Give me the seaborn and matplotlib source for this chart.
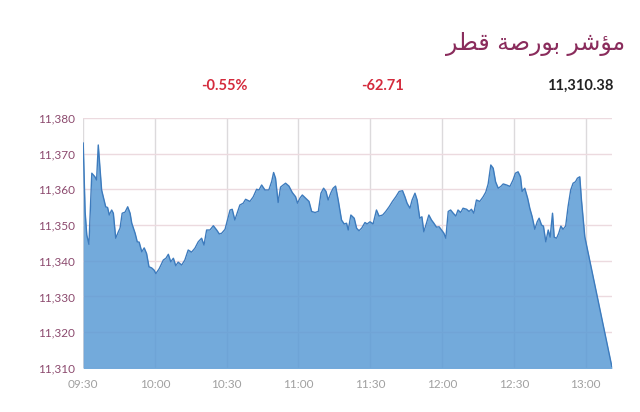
import seaborn as sns
import matplotlib
matplotlib.use("Agg")
import matplotlib.pyplot as plt
from matplotlib.ticker import FuncFormatter
import pandas as pd


TITLE = "مؤشر بورصة قطر"
CHANGE_PCT = "-0.55%"
CHANGE_PTS = "-62.71"
LAST_VALUE = "11,310.38"

# minutes after 09:30 and index level
MINUTES = [
    0, 0.8, 1.5, 2.4, 3.6, 4.9, 5.6, 6.3, 7.0, 7.7, 8.4, 9.4, 10.2, 10.9, 11.9,
    12.6, 13.6, 14.7, 15.4, 16.3, 17.5, 18.6, 19.6, 20.3, 21.7, 22.6, 23.4,
    24.5, 25.5, 26.5, 27.5, 28.6, 29.6, 30.4, 31.8, 33.5, 34.6, 35.6, 36.6,
    37.7, 38.7, 39.7, 41.2, 42.5, 43.9, 45.3, 46.7, 48.1, 49.5, 50.5, 51.6,
    53.0, 54.4, 55.8, 56.9, 57.9, 59.3, 61.4, 62.3, 63.4, 65.5, 66.9, 67.9,
    69.7, 71.1, 72.5, 73.5, 74.6, 76.0, 77.6, 78.8, 79.6, 80.4, 81.5, 82.5,
    83.6, 84.6, 86.0, 87.4, 88.8, 89.6, 90.6, 91.6, 93.0, 94.4, 95.5, 96.9,
    98.3, 99.4, 100.5, 101.5, 102.4, 103.6, 104.5, 105.5, 106.6, 108.0,
    109.1, 110.1, 110.8, 111.9, 113.3, 114.3, 115.3, 116.4, 117.8, 118.7,
    119.9, 121.2, 122.6, 123.7, 125.2, 126.5, 127.9, 129.3, 130.7, 132.1,
    133.5, 134.5, 135.4, 136.6, 137.5, 138.7, 139.6, 140.7, 141.6, 142.4,
    143.5, 144.5, 145.6, 146.6, 147.7, 148.8, 149.8, 150.8, 151.6, 152.6,
    153.6, 154.7, 155.8, 156.7, 157.8, 158.8, 160.3, 161.3, 162.3, 163.3,
    164.4, 165.8, 167.2, 168.3, 169.3, 170.4, 171.4, 172.4, 173.5, 174.6,
    175.6, 177.0, 178.4, 179.7, 180.7, 181.8, 182.8, 183.5, 184.6, 185.8,
    186.7, 187.7, 188.8, 189.8, 190.6, 191.6, 192.4, 193.4, 194.4, 195.2,
    196.2, 196.9, 197.9, 198.8, 199.7, 200.6, 201.7, 202.7, 203.8, 204.8,
    205.8, 206.6, 207.6, 208.3, 209.7, 221.0,
]
LEVELS = [
    11373.0, 11353.7, 11347.2, 11344.6, 11364.5, 11363.5, 11362.6, 11372.4,
    11365.9, 11359.8, 11357.9, 11355.1, 11354.9, 11352.8, 11354.2, 11353.3,
    11346.3, 11348.1, 11349.1, 11353.3, 11353.6, 11355.1, 11353.3, 11350.5,
    11347.7, 11345.3, 11345.2, 11342.5, 11343.6, 11342.0, 11338.3, 11338.0,
    11337.4, 11336.4, 11337.8, 11340.2, 11340.7, 11341.8, 11339.7, 11340.7,
    11338.6, 11339.6, 11338.8, 11340.2, 11343.0, 11342.4, 11343.5, 11345.3,
    11346.3, 11344.4, 11348.6, 11348.6, 11349.8, 11348.6, 11347.5, 11347.7,
    11348.8, 11354.2, 11354.4, 11351.4, 11355.6, 11356.1, 11357.2, 11356.6,
    11357.9, 11360.0, 11359.8, 11361.2, 11359.8, 11359.8, 11362.2, 11364.7,
    11363.1, 11356.3, 11360.6, 11361.2, 11361.7, 11360.9, 11359.1, 11357.9,
    11356.1, 11357.5, 11358.4, 11357.5, 11356.6, 11353.8, 11353.5, 11353.8,
    11358.9, 11360.3, 11359.4, 11357.0, 11359.1, 11360.3, 11360.9, 11357.0,
    11351.4, 11350.3, 11350.5, 11348.6, 11352.8, 11351.9, 11349.1, 11348.4,
    11349.1, 11350.7, 11350.3, 11350.9, 11350.3, 11354.2, 11352.5, 11352.8,
    11353.8, 11355.1, 11356.6, 11357.9, 11359.4, 11359.6, 11357.9, 11356.1,
    11354.7, 11357.0, 11358.9, 11357.0, 11351.9, 11352.3, 11348.1, 11350.5,
    11352.8, 11351.4, 11350.5, 11349.4, 11349.5, 11348.6, 11347.7, 11346.3,
    11353.8, 11354.2, 11353.3, 11352.5, 11354.2, 11353.5, 11354.7, 11354.4,
    11353.8, 11354.4, 11353.3, 11357.0, 11356.6, 11357.9, 11359.2, 11361.5,
    11366.8, 11365.9, 11362.1, 11360.3, 11360.8, 11361.5, 11361.2, 11360.8,
    11362.6, 11364.5, 11364.9, 11363.5, 11359.4, 11360.3, 11357.5, 11354.7,
    11352.3, 11348.8, 11350.9, 11351.9, 11350.0, 11349.7, 11345.3, 11348.6,
    11346.6, 11353.3, 11346.6, 11346.3, 11347.7, 11349.7, 11348.8, 11349.7,
    11355.1, 11359.8, 11361.7, 11362.1, 11363.1, 11363.5, 11357.0, 11346.7,
    11310.38,
]

X_TICKS = [0, 30, 60, 90, 120, 150, 180, 210]
X_LABELS = ["09:30", "10:00", "10:30", "11:00", "11:30", "12:00", "12:30", "13:00"]
Y_TICKS = [11310, 11320, 11330, 11340, 11350, 11360, 11370, 11380]

FILL = "#5b9bd5"
LINE = "#3d7bbd"
MAROON = "#8a2c5c"
RED = "#d42a3c"


# matplotlib does no arabic shaping, so pick the contextual forms by hand
# forms: isolated, final, initial, medial (right-joining letters have only two)
ARABIC_FORMS = {
    "م": "\ufee1\ufee2\ufee3\ufee4",
    "ش": "\ufeb5\ufeb6\ufeb7\ufeb8",
    "ب": "\ufe8f\ufe90\ufe91\ufe92",
    "ص": "\ufeb9\ufeba\ufebb\ufebc",
    "ق": "\ufed5\ufed6\ufed7\ufed8",
    "ط": "\ufec1\ufec2\ufec3\ufec4",
    "ؤ": "\ufe85\ufe86",
    "ر": "\ufead\ufeae",
    "و": "\ufeed\ufeee",
    "ة": "\ufe93\ufe94",
}


def shape_arabic(text):
    out = []
    for i, ch in enumerate(text):
        forms = ARABIC_FORMS.get(ch)
        if forms is None:
            out.append(ch)
            continue
        prev = text[i - 1] if i > 0 else ""
        nxt = text[i + 1] if i + 1 < len(text) else ""
        join_prev = prev in ARABIC_FORMS and len(ARABIC_FORMS[prev]) == 4
        join_next = len(forms) == 4 and nxt in ARABIC_FORMS
        idx = {(False, False): 0, (True, False): 1, (False, True): 2, (True, True): 3}[(join_prev, join_next)]
        out.append(forms[idx])
    return "".join(reversed(out))


sns.set_style("white")
plt.rcParams["font.family"] = ["Lato", "DejaVu Sans"]

df = pd.DataFrame({"minute": MINUTES, "level": LEVELS})

fig = plt.figure(figsize=(6.4, 4.12), dpi=100)
ax = fig.add_axes([0.13, 0.107, 0.826, 0.607])

ax.fill_between(df["minute"], df["level"], 11300, color=FILL, alpha=0.85, linewidth=0, zorder=2)
sns.lineplot(data=df, x="minute", y="level", ax=ax, color=LINE, linewidth=1, zorder=3)

ax.set_xlim(0, 221)
ax.set_ylim(11310, 11380)
ax.set_xticks(X_TICKS)
ax.set_xticklabels(X_LABELS)
ax.set_yticks(Y_TICKS)
ax.yaxis.set_major_formatter(FuncFormatter(lambda v, p: f"{v:,.0f}"))
ax.set_xlabel("")
ax.set_ylabel("")

ax.grid(axis="y", color="#ecdadf", linewidth=1)
ax.grid(axis="x", color="#dcdadc", linewidth=1)
ax.set_axisbelow(True)
for s in ax.spines.values():
    s.set_visible(False)

ax.tick_params(axis="y", colors=MAROON, labelsize=8.5, length=0, pad=6)
ax.tick_params(axis="x", colors="#a0a0a0", labelsize=8.5, length=0, pad=8)
for lab in ax.get_yticklabels():
    lab.set_color("#8c4a6e")

fig.text(0.977, 0.893, shape_arabic(TITLE), ha="right", va="center",
         fontsize=17, color=MAROON, family="DejaVu Sans")
fig.text(0.35, 0.791, CHANGE_PCT, ha="center", va="center", fontsize=10.5,
         fontweight="bold", color=RED)
fig.text(0.598, 0.791, CHANGE_PTS, ha="center", va="center", fontsize=10.5,
         fontweight="bold", color=RED)
fig.text(0.958, 0.791, LAST_VALUE, ha="right", va="center", fontsize=10.5,
         fontweight="bold", color="#222222")

plt.savefig("out.png", dpi=100)
